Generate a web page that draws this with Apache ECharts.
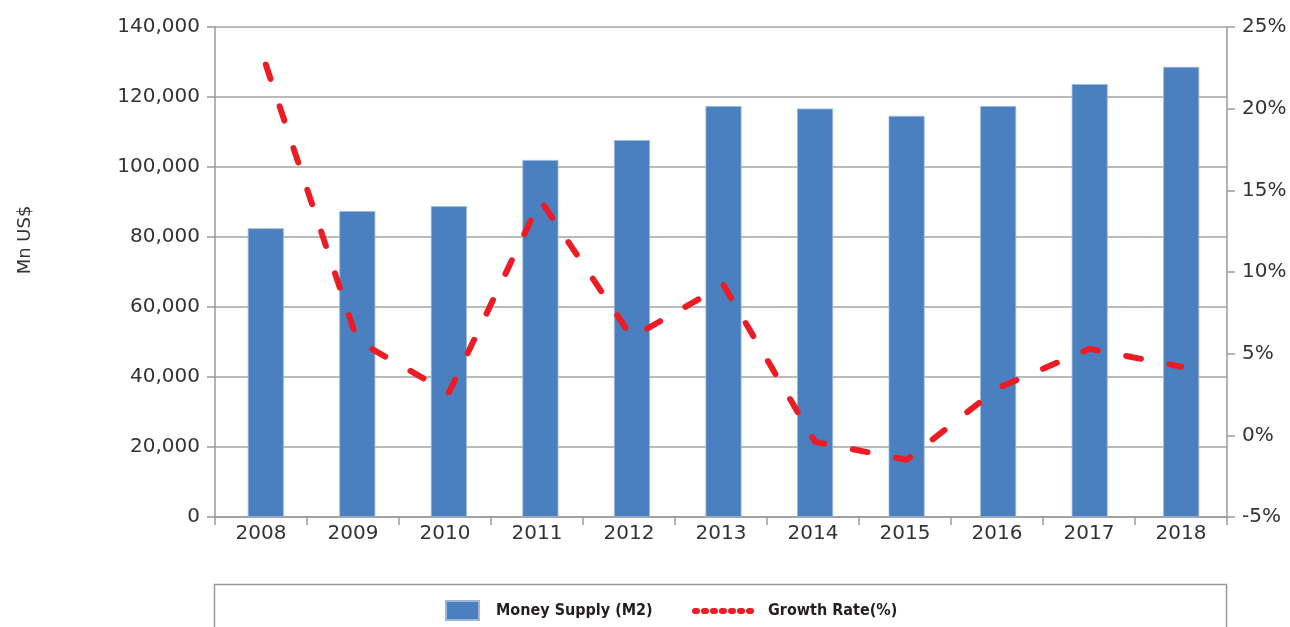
<!DOCTYPE html>
<html>
<head>
<meta charset="utf-8">
<style>
  html, body { margin: 0; padding: 0; background: #ffffff; }
  #chart { width: 1290px; height: 627px; }
</style>
<script src="https://cdn.jsdelivr.net/npm/echarts@6/dist/echarts.min.js"></script>
</head>
<body>
<div id="chart"></div>
<script>
// categories and values
var years = ['2008', '2009', '2010', '2011', '2012', '2013', '2014', '2015', '2016', '2017', '2018'];
var moneySupply = [82500, 87400, 88800, 102000, 107700, 117400, 116700, 114600, 117400, 123700, 128600];
var growthRate = [22.7, 5.8, 2.6, 14.4, 6.0, 9.2, -0.4, -1.5, 2.9, 5.3, 4.2];

var axisFont = 'DejaVu Sans';
var legendFont = '"Liberation Sans Narrow", "DejaVu Sans Condensed", sans-serif';
var axisGray = '#9a9a9a';

var chart = echarts.init(document.getElementById('chart'), null, { renderer: 'canvas' });

// the marks in the source sit a few px right of the category centres,
// so they go on a second (hidden) grid that is nudged right
var option = {
  backgroundColor: '#ffffff',
  animation: false,
  grid: [
    { left: 215, right: 63, top: 27, bottom: 110 },
    { left: 220, right: 63, top: 27, bottom: 110 }
  ],
  xAxis: [
    {
      type: 'category',
      gridIndex: 0,
      data: years,
      axisLine: { lineStyle: { color: axisGray, width: 1.5 } },
      axisTick: { show: true, length: 8, lineStyle: { color: axisGray, width: 1.5 } },
      axisLabel: { color: '#333333', fontFamily: axisFont, fontSize: 20, margin: 7 }
    },
    {
      type: 'category',
      gridIndex: 1,
      data: years,
      show: false
    }
  ],
  yAxis: [
    {
      type: 'value',
      gridIndex: 0,
      min: 0,
      max: 140000,
      interval: 20000,
      axisLine: { show: true, lineStyle: { color: axisGray, width: 1.5 } },
      axisTick: { show: true, length: 8, lineStyle: { color: axisGray, width: 1.5 } },
      axisLabel: {
        color: '#333333', fontFamily: axisFont, fontSize: 20, margin: 15,
        formatter: function (v) { return v.toLocaleString('en-US'); }
      },
      splitLine: { lineStyle: { color: '#a3a3a3', width: 1.5 } }
    },
    {
      type: 'value',
      gridIndex: 0,
      min: -5,
      max: 25,
      interval: 5,
      position: 'right',
      axisLine: { show: true, lineStyle: { color: axisGray, width: 1.5 } },
      axisTick: { show: true, length: 8, lineStyle: { color: axisGray, width: 1.5 } },
      axisLabel: { color: '#333333', fontFamily: axisFont, fontSize: 20, margin: 15, formatter: '{value}%' },
      splitLine: { show: false }
    },
    { type: 'value', gridIndex: 1, min: 0, max: 140000, show: false },
    { type: 'value', gridIndex: 1, min: -5, max: 25, show: false }
  ],
  legend: [
    {
      data: ['Money Supply (M2)'],
      left: 445,
      top: 600,
      padding: 0,
      itemWidth: 33,
      itemHeight: 19,
      icon: 'rect',
      textStyle: { color: '#231f20', fontFamily: legendFont, fontWeight: 'bold', fontSize: 16, padding: [0, 0, 0, 12] }
    },
    {
      data: ['Growth Rate(%)'],
      left: 692,
      top: 603,
      padding: 0,
      itemWidth: 62,
      itemHeight: 19,
      itemStyle: { opacity: 0 },
      lineStyle: { type: [2, 7], width: 6, cap: 'round' },
      textStyle: { color: '#231f20', fontFamily: legendFont, fontWeight: 'bold', fontSize: 16, padding: [0, 0, 0, 6] }
    }
  ],
  graphic: [
    {
      type: 'rect',
      silent: true,
      shape: { x: 214.5, y: 584.5, width: 1012, height: 100 },
      style: { fill: 'none', stroke: axisGray, lineWidth: 1.5 }
    },
    {
      type: 'text',
      silent: true,
      x: 25,
      y: 240,
      rotation: Math.PI / 2,
      style: {
        text: 'Mn US$',
        fill: '#333333',
        font: '18px "DejaVu Sans"',
        align: 'center',
        verticalAlign: 'middle'
      }
    }
  ],
  series: [
    {
      name: 'Money Supply (M2)',
      type: 'bar',
      xAxisIndex: 1,
      yAxisIndex: 2,
      data: moneySupply,
      barWidth: 36,
      itemStyle: { color: '#4a80bf', borderColor: '#9cb7db', borderWidth: 0.8 }
    },
    {
      name: 'Growth Rate(%)',
      type: 'line',
      xAxisIndex: 1,
      yAxisIndex: 3,
      data: growthRate,
      symbol: 'none',
      lineStyle: { color: '#ed1c24', width: 6, type: [15, 29], cap: 'round' },
      itemStyle: { color: '#ed1c24' },
      z: 3
    }
  ]
};

chart.setOption(option);
window.addEventListener('resize', function () {
  chart.resize();
});
</script>
</body>
</html>
